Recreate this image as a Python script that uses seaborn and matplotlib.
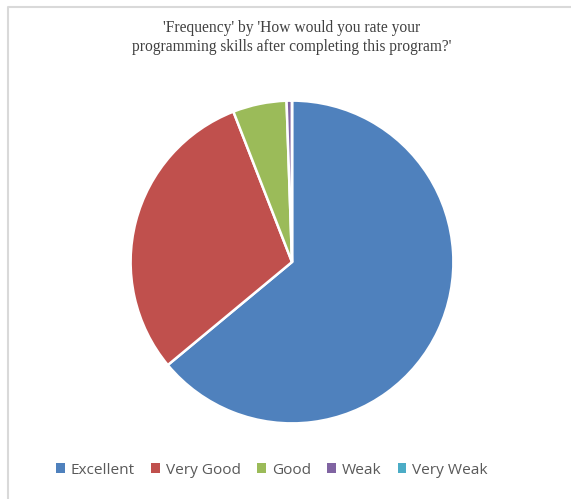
import matplotlib
matplotlib.use("Agg")
import matplotlib.pyplot as plt
from matplotlib.patches import Rectangle
from matplotlib.lines import Line2D
import seaborn as sns

# Survey responses
ratings = ["Excellent", "Very Good", "Good", "Weak", "Very Weak"]
frequency = [119, 56, 10, 1, 0]
colors_hex = ["#4F81BD", "#C0504D", "#9BBB59", "#8064A2", "#4BACC6"]

title_text = ("'Frequency' by 'How would you rate your\n"
              "programming skills after completing this program?'")

sns.set_theme(style="white")
palette = sns.color_palette(colors_hex)

W, H = 571, 499
fig = plt.figure(figsize=(W / 100, H / 100), dpi=100)
fig.patch.set_facecolor("white")

# Chart-area frame (top and left edges visible)
frame = Line2D([7.5 / W, 7.5 / W, 1.0], [0.0, 1 - 6.5 / H, 1 - 6.5 / H],
               transform=fig.transFigure, color="#d9d9d9", lw=1.5)
fig.add_artist(frame)

cx, cy, r = 292, 262, 163
ax = fig.add_axes([(cx - r) / W, (H - cy - r) / H, 2 * r / W, 2 * r / H])
ax.pie(frequency, colors=palette, startangle=90, counterclock=False,
       radius=1.0, wedgeprops=dict(edgecolor="white", linewidth=1.8))
ax.set_xlim(-1.01, 1.01)
ax.set_ylim(-1.01, 1.01)
ax.set_aspect("equal")
ax.axis("off")

fig.text(292 / W, 1 - 37.5 / H, title_text, ha="center", va="center",
         fontsize=11.2, family="Liberation Serif", color="#404040",
         linespacing=1.3)

handles = [Rectangle((0, 0), 1, 1, facecolor=c, edgecolor="none") for c in palette]
fig.legend(handles, ratings, loc="center", bbox_to_anchor=(272 / W, 1 - 470 / H),
           ncol=5, frameon=False, handlelength=0.55, handleheight=0.55,
           handletextpad=0.4, columnspacing=1.05,
           prop=dict(family="Open Sans", size=11.1), labelcolor="#595959")

fig.savefig("out.png", dpi=100, facecolor="white")
